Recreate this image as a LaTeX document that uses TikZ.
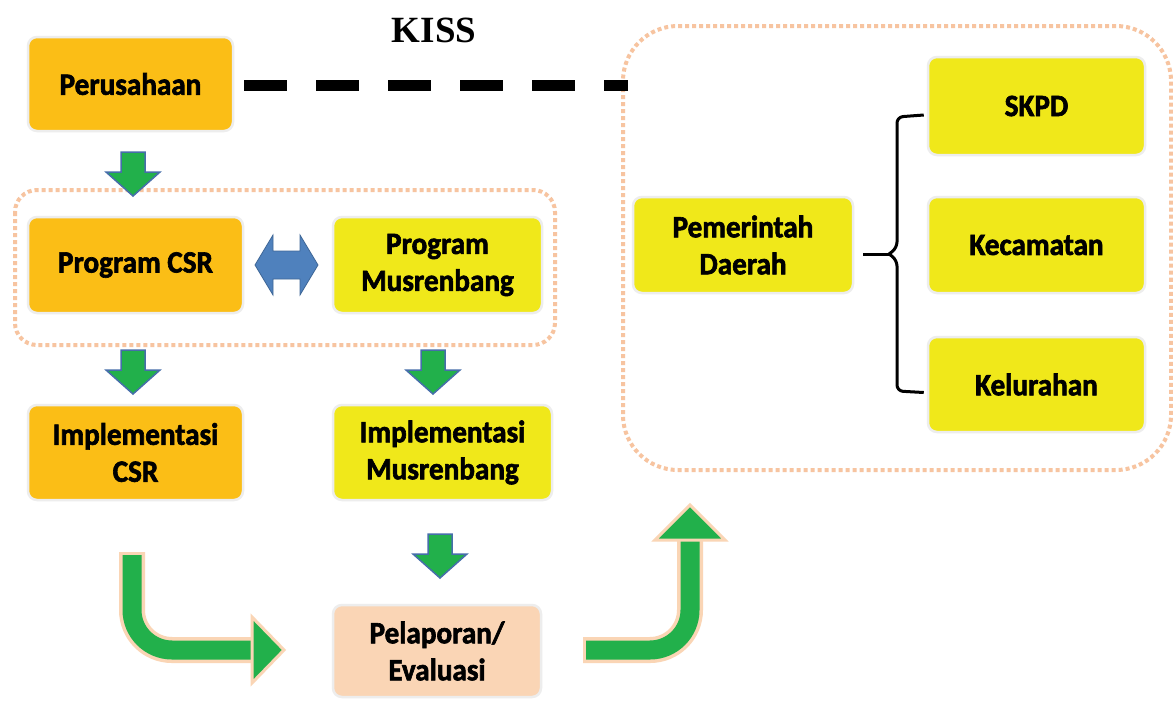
\documentclass[tikz,border=0pt]{standalone}
\usepackage{fontspec}
\newfontfamily\boxfont{Carlito}[FakeStretch=0.94, BoldFeatures={FakeBold=2}]
\newfontfamily\titlefont{Liberation Serif}
\usetikzlibrary{calc}
\definecolor{orangebox}{RGB}{251,190,22}
\definecolor{yellowbox}{RGB}{240,232,26}
\definecolor{peachbox}{RGB}{250,213,181}
\definecolor{arrgreen}{RGB}{34,176,75}
\definecolor{arrblue}{RGB}{70,110,170}
\definecolor{dblue}{RGB}{79,129,189}
\definecolor{peachline}{RGB}{247,196,160}
\tikzset{
  x=1pt,y=-1pt,
  boxbase/.style={rectangle, rounded corners=9pt, draw=black!7, line width=2.5pt, align=center,
    font=\boxfont\bfseries\fontsize{31}{37}\selectfont, inner sep=0pt},
  orangebx/.style={boxbase, fill=orangebox},
  yellowbx/.style={boxbase, fill=yellowbox},
  peachbx/.style={boxbase, fill=peachbox},
  frame/.style={draw=peachline, line width=4pt, dash pattern=on 4pt off 3pt},
  downarr/.pic={\path[fill=arrgreen,draw=arrblue,line width=1.5pt]
     (-12,-22)--(12,-22)--(12,-2)--(27,-2)--(0,22)--(-27,-2)--(-12,-2)--cycle;},
  bigout/.style={draw=peachbox, line width=26pt},
  bigin/.style={draw=arrgreen, line width=19pt},
  bighead/.style={fill=arrgreen, draw=peachbox, line width=3pt, line join=miter},
  brace/.style={line width=3pt, rounded corners=6pt},
}
\begin{document}
\begin{tikzpicture}
\useasboundingbox[fill=white] (0,0) rectangle (1173,702);

% frames
\draw[frame, rounded corners=22pt] (15,190) rectangle (555,345);
\draw[frame, rounded corners=55pt] (623,26) rectangle (1171,470);

% title
\node[font=\titlefont\bfseries\fontsize{37}{40}\selectfont] (kiss) at (434,30) {KISS};

% boxes
\node[orangebx, minimum width=205pt, minimum height=94pt] (per) at (130.5,84) {Perusahaan};
\node[orangebx, minimum width=215pt, minimum height=96pt] (pcsr) at (135.5,265) {Program CSR};
\node[yellowbx, minimum width=209pt, minimum height=96pt] (pmus) at (437.5,265) {Program\\Musrenbang};
\node[orangebx, minimum width=215pt, minimum height=95pt] (icsr) at (135.5,452.5) {Implementasi\\CSR};
\node[yellowbx, minimum width=219pt, minimum height=95pt] (imus) at (442.5,452.5) {Implementasi\\Musrenbang};
\node[peachbx, minimum width=208pt, minimum height=92pt] (lap) at (437,651) {Pelaporan/\\Evaluasi};
\node[yellowbx, minimum width=220pt, minimum height=96pt] (pem) at (743,245) {Pemerintah\\Daerah};
\node[yellowbx, minimum width=217pt, minimum height=98pt] (skpd) at (1036.5,106) {SKPD};
\node[yellowbx, minimum width=217pt, minimum height=96pt] (kec) at (1036.5,245) {Kecamatan};
\node[yellowbx, minimum width=217pt, minimum height=95pt] (kel) at (1036.5,384.5) {Kelurahan};

% dashed KISS line
\coordinate (dashend) at (628,85);
\draw[line width=11pt, dash pattern=on 43pt off 29pt] ($(per.east)+(10,1)$) -- (dashend);

% green block arrows
\pic at (133,174) {downarr};
\pic at (133,372) {downarr};
\pic at (433,372) {downarr};
\pic at (440,556) {downarr};

% blue double arrow
\path[fill=dblue, draw=dblue!80!black, line width=0.8pt]
  (255,265)--(273,235)--(273,251)--(300,251)--(300,235)--(318,265)--(300,295)--(300,279)--(273,279)--(273,295)--cycle;

% big curved arrow left
\draw[bigout, rounded corners=40pt] (132,552) |- (256,650);
\draw[bigin, rounded corners=40pt] (132,555) |- (258,650);
\path[bighead] (252,617)--(284,650)--(252,683)--cycle;

% big curved arrow right
\draw[bigout, rounded corners=40pt] (583,650) -| (690,538);
\draw[bigin, rounded corners=40pt] (586,650) -| (690,536);
\path[bighead] (655,540)--(690,505)--(725,540)--cycle;

% bracket
\coordinate (cusp) at (889,254);
\draw[brace] ($(skpd.west)+(-3,9)$) -- (897,117) -- (897,248) -- (cusp);
\draw[brace] ($(kel.west)+(-3,8)$) -- (897,391) -- (897,260) -- (cusp);
\draw[line width=3pt] ($(pem.east)+(9,9)$) -- (cusp);
\end{tikzpicture}
\end{document}
